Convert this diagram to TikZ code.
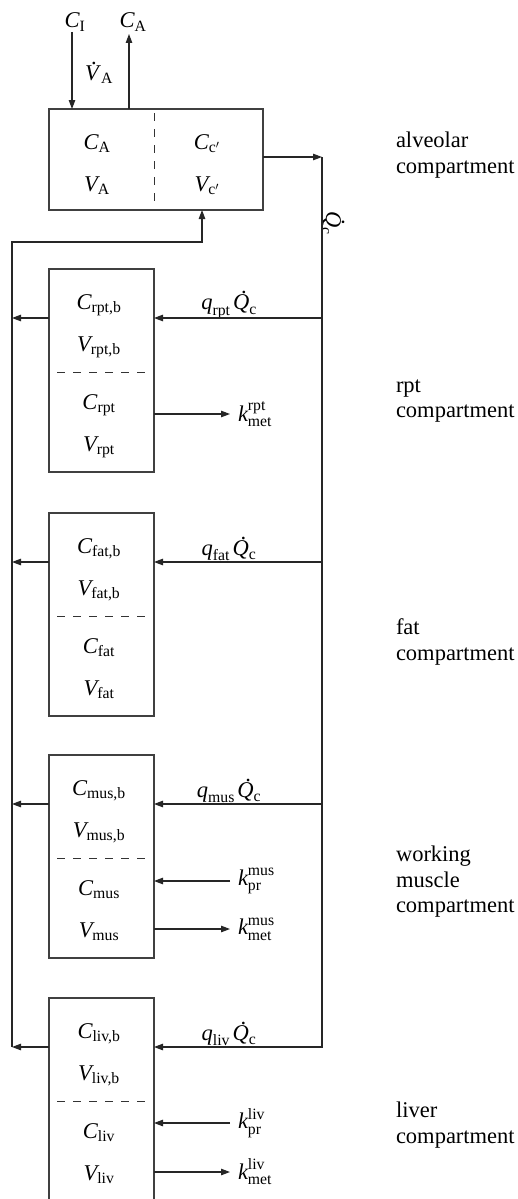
\documentclass[tikz,border=0pt]{standalone}
\usepackage{fix-cm}
\usepackage{amsmath}
\usepackage[no-math]{fontspec}
\setmainfont{Liberation Serif}
\usetikzlibrary{arrows.meta,calc}

% italic letter taken from the text font
\newcommand\iv[1]{\textit{#1}}
% dotted (rate) quantities
\newcommand\Vdot{\mbox{\rlap{\hspace{0.27em}\raisebox{0.72em}{.}}\textit{V}}}
\newcommand\Qdot{\mbox{\rlap{\hspace{0.36em}\raisebox{0.72em}{.}}\textit{Q}}}

\begin{document}
\begin{tikzpicture}[x=1pt,y=-1pt,
  every node/.style={font=\fontsize{22.5}{25.5}\selectfont, inner sep=0pt, outer sep=0pt},
  wire/.style={draw=black!85, line width=1.1pt},
  flow/.style={wire, -{Triangle[length=9pt,width=6.5pt]}},
  cbox/.style={draw=black!75, line width=1.2pt, rectangle, minimum width=105pt,
               minimum height=203pt, anchor=north},
  divider/.style={draw=black!80, line width=1pt, dash pattern=on 8pt off 8pt},
  cell/.style={anchor=base},
  lab/.style={anchor=west, align=left},
]
\useasboundingbox (0,0) rectangle (518,1199);

% ---------- alveolar compartment ----------
\node[cbox, minimum width=214pt, minimum height=101pt] (alv) at (156,109) {};
\draw[divider] (154,113) -- (154,207);
\node[cell] (alv-c)  at (97,149.5)  {$\iv{C}_{\text{A}}$};
\node[cell] (alv-v)  at (97,191.5)  {$\iv{V}_{\text{A}}$};
\node[cell] (cap-c)  at (207,149.5) {$\iv{C}_{\text{c}'}$};
\node[cell] (cap-v)  at (207,191.5) {$\iv{V}_{\text{c}'}$};

% inspired / expired air
\node (cin)  at (75,22)  {$\iv{C}_{\text{I}}$};
\node (cout) at (133,22) {$\iv{C}_{\text{A}}$};
\node (vent) at (99,73)  {$\Vdot_{\text{A}}$};
\coordinate (inTop)  at (72,32);
\coordinate (outTop) at (129,34);
\draw[flow] (inTop) -- (inTop |- alv.north);
\draw[flow] (outTop |- alv.north) -- (outTop);

% arterial trunk
\coordinate (trunk) at (322,157);
\draw[flow] (alv.east |- trunk) -- (trunk);
\node[rotate=-90] (qc) at (333,223) {$\Qdot_{\text{c}}$};

% venous return line
\coordinate (retTop)  at (12,242);
\coordinate (retTurn) at (202,242);

% ---------- tissue compartments ----------
\foreach \nm/\ty in {rpt/269, fat/513, mus/755, liv/998} {
  \node[cbox] (\nm) at (101.5,\ty) {};
  \node[cell] (\nm-cb) at (99,\ty+40.5)  {$\iv{C}_{\text{\nm,b}}$};
  \node[cell] (\nm-vb) at (99,\ty+82.5)  {$\iv{V}_{\text{\nm,b}}$};
  \node[cell] (\nm-c)  at (99,\ty+140.5) {$\iv{C}_{\text{\nm}}$};
  \node[cell] (\nm-v)  at (99,\ty+182.5) {$\iv{V}_{\text{\nm}}$};
  \draw[divider] (57,\ty+103) -- (146,\ty+103);
  \coordinate (\nm-in) at (322,\ty+49);
  \node (\nm-q) at (229,\ty+36) {$\iv{q}_{\text{\nm}}\mkern2mu\Qdot_{\text{c}}$};
  \draw[flow] (\nm.west |- \nm-in) -- (retTop |- \nm-in);
}

% blood flow into the tissues
\draw[flow] (trunk) -- (liv-in) -- (liv.east |- liv-in);
\foreach \nm in {rpt, fat, mus}
  \draw[flow] (\nm-in) -- (\nm.east |- \nm-in);

% venous blood back to the lungs
\draw[flow] (retTop |- liv-in) -- (retTop) -- (retTurn) -- (alv.south -| retTurn);

% metabolism and production
\node[anchor=west] (rpt-met) at (238,414)  {$\iv{k}^{\text{rpt}}_{\text{met}}$};
\node[anchor=west] (mus-pr)  at (238,881)  {$\iv{k}^{\text{mus}}_{\text{pr}}$};
\node[anchor=west] (mus-met) at (238,929)  {$\iv{k}^{\text{mus}}_{\text{met}}$};
\node[anchor=west] (liv-pr)  at (238,1123) {$\iv{k}^{\text{liv}}_{\text{pr}}$};
\node[anchor=west] (liv-met) at (238,1172) {$\iv{k}^{\text{liv}}_{\text{met}}$};
\draw[flow] (rpt.east |- rpt-met.west) -- ([xshift=-8pt]rpt-met.west);
\draw[flow] ([xshift=-8pt]mus-pr.west) -- (mus.east |- mus-pr.west);
\draw[flow] (mus.east |- mus-met.west) -- ([xshift=-8pt]mus-met.west);
\draw[flow] ([xshift=-8pt]liv-pr.west) -- (liv.east |- liv-pr.west);
\draw[flow] (liv.east |- liv-met.west) -- ([xshift=-8pt]liv-met.west);

% compartment names
\node[lab] (alv-name) at (396,155)  {alveolar\\compartment};
\node[lab] (rpt-name) at (396,401)  {rpt\\compartment};
\node[lab] (fat-name) at (396,642)  {fat\\compartment};
\node[lab] (mus-name) at (396,882)  {working\\muscle\\compartment};
\node[lab] (liv-name) at (396,1125) {liver\\compartment};
\end{tikzpicture}
\end{document}
